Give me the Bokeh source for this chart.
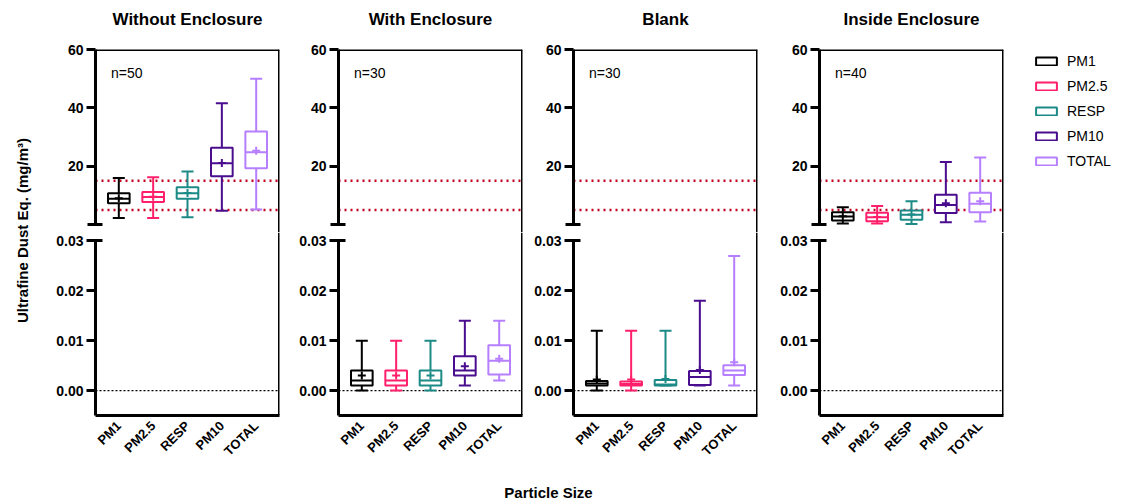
from math import pi
from bokeh.plotting import figure
from bokeh.models import (ColumnDataSource, Range1d, FactorRange, Span, Label, Legend,
                          LegendItem, FixedTicker, PrintfTickFormatter)
from bokeh.transform import dodge
from bokeh.layouts import row, column
from bokeh.embed import file_html
from bokeh.resources import INLINE

FONT = "Liberation Sans"
NAN = float("nan")

# ---------------- data ----------------
categories = ["PM1", "PM2.5", "RESP", "PM10", "TOTAL"]
colors = ["#000000", "#FF1F6B", "#1C8A86", "#4A0D8E", "#B67FFF"]

titles = ["Without Enclosure", "With Enclosure", "Blank", "Inside Enclosure"]
n_labels = ["n=50", "n=30", "n=30", "n=40"]
limit_lines = [5, 15]
BREAK = 0.03

# Without Enclosure (mg/m3)
wo_min = [2.2, 2.2, 2.5, 4.7, 5.1]
wo_q1 = [7.3, 7.7, 8.8, 16.5, 19.3]
wo_med = [8.8, 9.4, 10.7, 21.0, 24.8]
wo_q3 = [10.7, 11.1, 12.8, 26.3, 31.9]
wo_max = [15.9, 16.2, 18.2, 41.6, 50.0]
wo_mean = [9.0, 9.5, 10.8, 21.1, 25.3]

# With Enclosure
we_min = [0.0, 0.0, 0.0, 0.001, 0.002]
we_q1 = [0.001, 0.001, 0.001, 0.003, 0.0032]
we_med = [0.002, 0.002, 0.002, 0.004, 0.006]
we_q3 = [0.004, 0.004, 0.004, 0.0069, 0.0091]
we_max = [0.010, 0.010, 0.010, 0.014, 0.014]
we_mean = [0.003, 0.003, 0.003, 0.0049, 0.0064]

# Blank
bl_min = [0.0, 0.0, 0.001, 0.001, 0.001]
bl_q1 = [0.001, 0.001, 0.001, 0.0011, 0.0031]
bl_med = [0.0014, 0.0013, 0.0012, 0.0027, 0.004]
bl_q3 = [0.0019, 0.0018, 0.0021, 0.0039, 0.0051]
bl_max = [0.012, 0.012, 0.012, 0.018, 0.027]
bl_mean = [0.0022, 0.0022, 0.0023, 0.0041, 0.0057]

# Inside Enclosure
ie_min = [0.3, 0.3, 0.2, 0.8, 1.0]
ie_q1 = [1.4, 1.1, 1.6, 3.9, 4.2]
ie_med = [2.7, 2.5, 3.3, 6.7, 7.1]
ie_q3 = [4.2, 4.0, 4.8, 10.2, 10.9]
ie_max = [5.9, 6.3, 8.0, 21.4, 23.0]
ie_mean = [2.8, 2.6, 3.4, 7.3, 8.0]

panel_data = [
    (wo_min, wo_q1, wo_med, wo_q3, wo_max, wo_mean),
    (we_min, we_q1, we_med, we_q3, we_max, we_mean),
    (bl_min, bl_q1, bl_med, bl_q3, bl_max, bl_mean),
    (ie_min, ie_q1, ie_med, ie_q3, ie_max, ie_mean),
]

# ---------------- layout / style ----------------
PAD = 0.1785          # range padding on each side (category units)
BOX_W = 0.63
CAP_W = 0.35
TOP_RANGE = (-2.75, 60)
BOT_RANGE = (-0.005, 0.0317)
FRAME_W = 184
FRAME_H = 183
LEFT_B = [55, 48, 43, 49]
RIGHT_B = [11, 8, 13, 8]
TITLE_H = 30
TOP_B = 19
BOT_B = 55
LINE_W = 2
AX_W = 3
RED = "#C00020"
PAGE_W = 1118


def style_yaxis(ax, ticks, minor, bounds, fmt=None):
    ax.ticker = FixedTicker(ticks=ticks, minor_ticks=minor)
    ax.bounds = bounds
    ax.axis_line_width = AX_W
    ax.major_tick_line_width = AX_W
    ax.major_tick_out = 9
    ax.major_tick_in = 0
    ax.minor_tick_line_width = AX_W
    ax.minor_tick_out = 8
    ax.minor_tick_in = 7
    ax.major_label_standoff = 3
    ax.major_label_text_font = FONT
    ax.major_label_text_font_size = "14px"
    ax.major_label_text_font_style = "bold"
    ax.major_label_text_color = "black"
    if fmt is not None:
        ax.formatter = fmt


def draw_boxes(p, data, segment):
    lo, q1, med, q3, hi, mean = data
    if segment == "top":
        keep = [i for i in range(len(categories)) if hi[i] > BREAK]
    else:
        keep = [i for i in range(len(categories)) if lo[i] < BREAK]
    src = ColumnDataSource(dict(
        cat=[categories[i] for i in keep],
        color=[colors[i] for i in keep],
        lo=[lo[i] for i in keep], q1=[q1[i] for i in keep], med=[med[i] for i in keep],
        q3=[q3[i] for i in keep], hi=[hi[i] for i in keep], mean=[mean[i] for i in keep],
    ))
    xr = p.x_range
    p.segment(x0="cat", x1="cat", y0="lo", y1="hi", source=src,
              line_color="color", line_width=LINE_W)
    for col in ("lo", "hi"):
        p.segment(x0=dodge("cat", -CAP_W / 2, range=xr), x1=dodge("cat", CAP_W / 2, range=xr),
                  y0=col, y1=col, source=src, line_color="color", line_width=LINE_W)
    p.vbar(x="cat", width=BOX_W, bottom="q1", top="q3", source=src,
           fill_color="white", line_color="color", line_width=LINE_W)
    p.segment(x0=dodge("cat", -BOX_W / 2, range=xr), x1=dodge("cat", BOX_W / 2, range=xr),
              y0="med", y1="med", source=src, line_color="color", line_width=LINE_W)
    p.scatter(x="cat", y="mean", source=src, marker="cross", size=8,
              line_color="color", line_width=2)


cols = []
frame_lefts = []
xpos = 40
for k in range(4):
    frame_lefts.append(xpos + LEFT_B[k])
    xpos += LEFT_B[k] + FRAME_W + RIGHT_B[k]
    xr = FactorRange(factors=categories, range_padding=PAD, range_padding_units="absolute")
    x_end = len(categories) + PAD
    # ---- top segment ----
    pt = figure(x_range=xr, y_range=Range1d(*TOP_RANGE), frame_width=FRAME_W, frame_height=FRAME_H,
                toolbar_location=None, output_backend="svg", x_axis_location=None,
                min_border_left=LEFT_B[k], min_border_right=RIGHT_B[k],
                min_border_top=TOP_B, min_border_bottom=0)
    pt.outline_line_color = None
    pt.grid.visible = False
    style_yaxis(pt.yaxis[0], [20, 40, 60], [0], (0, TOP_RANGE[1]))
    for v in limit_lines:
        pt.add_layout(Span(location=v, dimension="width", line_color=RED, line_width=2.5,
                           line_dash="2 4", level="underlay"))
    draw_boxes(pt, panel_data[k], "top")
    pt.add_layout(Span(location=TOP_RANGE[1], dimension="width", line_color="black", line_width=AX_W))
    pt.add_layout(Span(location=x_end, dimension="height", line_color="black", line_width=AX_W))
    pt.add_layout(Label(x=-PAD + 0.45, y=51.8, text=n_labels[k], text_baseline="middle",
                        text_font=FONT, text_font_size="14px", text_color="black"))

    # ---- bottom segment ----
    pb = figure(x_range=xr, y_range=Range1d(*BOT_RANGE), frame_width=FRAME_W, frame_height=FRAME_H,
                toolbar_location=None, output_backend="svg",
                min_border_left=LEFT_B[k], min_border_right=RIGHT_B[k],
                min_border_top=0, min_border_bottom=BOT_B)
    pb.outline_line_color = None
    pb.grid.visible = False
    style_yaxis(pb.yaxis[0], [0, 0.01, 0.02, 0.03], [0.03], (BOT_RANGE[0], 0.0300001),
                PrintfTickFormatter(format="%.2f"))
    xa = pb.xaxis[0]
    xa.axis_line_width = AX_W
    xa.major_tick_line_color = None
    xa.minor_tick_line_color = None
    xa.major_label_orientation = pi / 4
    xa.major_label_standoff = 2
    xa.major_label_text_font = FONT
    xa.major_label_text_font_size = "13px"
    xa.major_label_text_font_style = "bold"
    xa.major_label_text_color = "black"
    pb.add_layout(Span(location=0, dimension="width", line_color="black", line_width=1.3,
                       line_dash="2 2", level="underlay"))
    draw_boxes(pb, panel_data[k], "bottom")
    pb.add_layout(Span(location=x_end, dimension="height", line_color="black", line_width=AX_W))
    cols.append(column(pt, pb))

# panel titles strip
tstrip = figure(width=PAGE_W, height=TITLE_H, x_range=Range1d(0, PAGE_W), y_range=Range1d(0, TITLE_H),
                x_axis_type=None, y_axis_type=None, toolbar_location=None, output_backend="svg",
                min_border=0)
tstrip.outline_line_color = None
tstrip.grid.visible = False
for k in range(4):
    tstrip.add_layout(Label(x=frame_lefts[k] + FRAME_W / 2, y=TITLE_H - 19, text=titles[k],
                            text_align="center", text_baseline="middle", text_font=FONT,
                            text_font_size="17px", text_font_style="bold", text_color="black"))

# legend (separate narrow figure; icon renderers carry no drawable data)
LEG_H = TOP_B + FRAME_H
leg = figure(width=107, height=LEG_H, x_range=Range1d(0, 1), y_range=Range1d(0, 1),
             x_axis_type=None, y_axis_type=None, toolbar_location=None, output_backend="svg",
             min_border=0)
leg.outline_line_color = None
leg.grid.visible = False
icons = [leg.vbar(x=[NAN], bottom=[NAN], top=[NAN], width=0.5, fill_color="white",
                  line_color=c, line_width=2) for c in colors]
legend = Legend(items=[LegendItem(label=c, renderers=[r]) for c, r in zip(categories, icons)],
                location=(22, 61), orientation="vertical", padding=0, margin=0,
                spacing=5, glyph_width=26, glyph_height=10, label_height=20,
                label_standoff=8, label_text_font=FONT, label_text_font_size="14px",
                label_text_color="black", border_line_alpha=0, background_fill_alpha=0)
leg.add_layout(legend)

# y label
PANEL_H = TOP_B + FRAME_H + FRAME_H + BOT_B
ylab = figure(width=40, height=PANEL_H, x_range=Range1d(0, 40), y_range=Range1d(0, PANEL_H),
              x_axis_type=None, y_axis_type=None, toolbar_location=None, output_backend="svg",
              min_border=0)
ylab.outline_line_color = None
ylab.grid.visible = False
ylab.add_layout(Label(x=22, y=PANEL_H - (230 - TITLE_H), text="Ultrafine Dust Eq. (mg/m³)",
                      angle=pi / 2, text_align="center", text_baseline="middle", text_font=FONT,
                      text_font_size="15px", text_font_style="bold", text_color="black"))

XL_H = 32
xlab = figure(width=PAGE_W, height=XL_H, x_range=Range1d(0, PAGE_W), y_range=Range1d(0, XL_H),
              x_axis_type=None, y_axis_type=None, toolbar_location=None, output_backend="svg",
              min_border=0)
xlab.outline_line_color = None
xlab.grid.visible = False
xlab.add_layout(Label(x=548, y=TITLE_H + PANEL_H + XL_H - 492, text="Particle Size",
                      text_align="center", text_baseline="middle", text_font=FONT,
                      text_font_size="15px", text_font_style="bold", text_color="black"))

layout = column(tstrip, row(ylab, *cols, leg), xlab)
open("out.html", "w").write(file_html(layout, INLINE))
